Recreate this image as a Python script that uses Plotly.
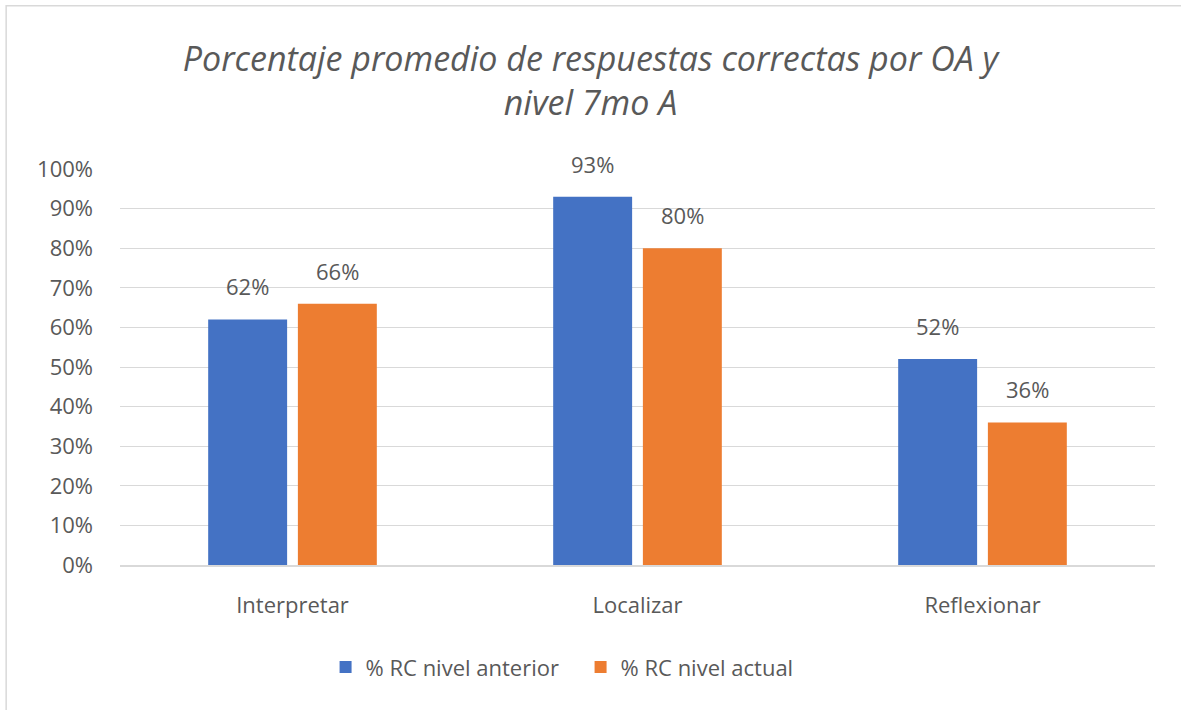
import plotly.graph_objects as go

categories = ["Interpretar", "Localizar", "Reflexionar"]
nivel_anterior = [0.62, 0.93, 0.52]
nivel_actual = [0.66, 0.80, 0.36]
series_names = ["% RC nivel anterior", "% RC nivel actual"]
y_ticks = [0, 0.1, 0.2, 0.3, 0.4, 0.5, 0.6, 0.7, 0.8, 0.9, 1.0]

font_family = "Open Sans, sans-serif"
text_gray = "#595959"
bargap = 0.48
colors = ["#4472C4", "#ED7D31"]

fig = go.Figure()
for name, vals, color in zip(series_names, [nivel_anterior, nivel_actual], colors):
    fig.add_trace(go.Bar(x=categories, y=vals, name=name,
                         marker=dict(color=color, line=dict(width=0))))

# data labels a bit above the bars, like the Excel original
slot = (1 - bargap) / 2
for k, vals in enumerate([nivel_anterior, nivel_actual]):
    offset = (k - 0.5) * slot
    for i, v in enumerate(vals):
        fig.add_annotation(x=i + offset, y=v, text=f"{v:.0%}", showarrow=False,
                           xanchor="center", yanchor="bottom", yshift=16,
                           font=dict(size=22, color=text_gray, family=font_family))

fig.update_layout(
    width=1181, height=710,
    paper_bgcolor="white", plot_bgcolor="white",
    margin=dict(l=120, r=26, t=169, b=145),
    barmode="group", bargap=bargap, bargroupgap=0.12,
    font=dict(family=font_family, color=text_gray, size=22),
    title=dict(text="<i>Porcentaje promedio de respuestas correctas por OA y<br>nivel 7mo A</i>",
               x=0.5, xanchor="center", y=0.900, yanchor="middle",
               font=dict(size=34, color=text_gray, family=font_family, weight=400)),
    legend=dict(orientation="h", x=0.445, xanchor="center", y=-0.258, yanchor="middle",
                font=dict(size=22, color=text_gray), traceorder="normal",
                entrywidth=210, entrywidthmode="pixels"),
    showlegend=True,
)
fig.update_xaxes(showline=True, linecolor="#D9D9D9", linewidth=1.5, ticks="",
                 tickfont=dict(size=22, color=text_gray), ticklabelstandoff=20)
fig.update_yaxes(range=[0, 1], tickvals=y_ticks, tickformat=".0%",
                 showgrid=True, gridcolor="#D9D9D9", gridwidth=1, zeroline=False,
                 tickfont=dict(size=22, color=text_gray), ticklabelstandoff=26)
fig.add_shape(type="rect", xref="paper", yref="paper",
              x0=-0.110, x1=1.043, y0=-0.39, y1=1.412,
              line=dict(color="#D9D9D9", width=1.5), fillcolor="rgba(0,0,0,0)")

fig.write_html("out.html", config={"displayModeBar": False},
               post_script="document.body.style.margin='0';")
